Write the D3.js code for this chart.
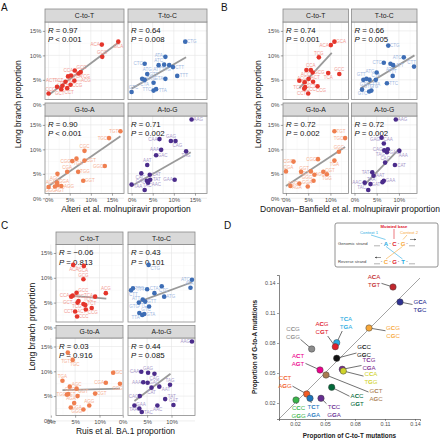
<!DOCTYPE html>
<html><head><meta charset="utf-8">
<script src="https://cdn.jsdelivr.net/npm/d3@7"></script>
<style>body{margin:0;background:#fff}svg{display:block;font-family:"Liberation Sans",Arial,sans-serif}</style>
</head><body><svg id="c" width="440" height="440"></svg>
<script>
// ---------- shared facet data ----------
const mutTypes = ["C-to-T","T-to-C","G-to-A","A-to-G"];
const pointColors = ["#E5352B","#3D6DB5","#EF7F4F","#4B2C8B"];
const labelColors = ["#F29A92","#A2B9DF","#F6B093","#A99BCB"];

// Alteri et al. (panel A): [trinucleotide, x %, y %]
const alteriCT = [["GCA",16.5,12.8],["ACA",12.6,12.2],["GCG",12.7,9.7],["TCA",6.2,6.9],["CCA",7.1,6.3],["TCG",5.3,5.9],["ACC",4.6,5.7],["GCC",7.6,6.6],["ACG",6.1,4.8],["ACT",4.0,4.6],["TCT",2.0,3.6],["GCT",3.3,3.8],["TCC",4.4,3.3],["CCT",3.0,3.1],["CCG",5.2,4.0],["CCC",0.0,2.2]];
const alteriTC = [["CTG",12.7,12.8],["ATA",8.0,9.7],["ATC",6.4,8.0],["TTG",8.9,8.0],["CTC",3.1,8.3],["CTT",9.8,7.6],["ATT",7.7,8.1],["ATG",3.7,6.2],["TTT",10.8,5.8],["GTA",8.0,5.2],["GTT",2.5,5.2],["CTA",3.1,5.0],["GTG",5.2,4.4],["TTA",5.2,2.8],["TTC",5.8,3.1],["GTC",0.0,2.5]];
const alteriGA = [["TGT",17.0,13.7],["TGC",14.3,12.3],["CGC",8.5,9.7],["TGA",6.6,8.1],["CGG",5.6,7.6],["CGT",8.5,7.7],["AGC",2.1,5.0],["CGA",4.4,5.4],["TGG",7.0,5.4],["GGC",13.3,6.6],["GGT",8.2,3.6],["AGT",2.0,3.2],["AGA",2.1,2.7],["AGG",3.0,2.5],["GGG",0.0,2.3],["GGA",1.5,2.4]];
const alteriAG = [["AAG",14.2,16.1],["CAA",6.6,12.1],["GAG",9.3,11.7],["CAG",10.4,11.7],["AAA",7.0,9.9],["GAC",5.8,8.8],["TAG",12.9,9.6],["AAT",3.7,6.8],["CAC",2.3,5.1],["GAA",10.2,3.8],["CAT",4.3,4.8],["GAT",3.6,3.6],["TAT",4.4,3.8],["AAC",3.9,3.2],["TAA",0.0,2.8],["TAC",3.1,1.7]];
const alteriR = ["0.97","0.64","0.90","0.71"];
const alteriP = ["< 0.001","= 0.008","< 0.001","= 0.002"];
const alteriFit = [[0,1.9,16.8,12.8],[0,3.2,12.9,9.6],[0,2.5,17.0,12.7],[0,2.5,14.0,9.4]];

// Donovan-Banfield et al. (panel B)
const donovanCT = [["GCA",10.9,12.8],["ACA",10.1,12.1],["TCG",7.4,9.6],["ACC",4.6,7.0],["CCA",5.6,7.0],["GCG",6.0,6.5],["TCA",9.5,6.4],["GCC",12.0,6.2],["TCC",3.0,4.8],["ACG",5.1,5.2],["ACT",4.2,4.5],["GCT",6.1,4.6],["TCT",4.3,3.5],["CCT",4.1,3.2],["CCG",7.1,3.7],["CCC",5.0,2.2]];
const donovanTC = [["CTG",7.6,12.0],["ATC",11.1,9.6],["CTT",13.4,7.7],["ATA",8.1,8.3],["CTC",6.6,8.5],["ATT",8.7,8.0],["ATG",5.0,6.5],["TTT",8.6,5.8],["TTC",7.3,4.3],["TTA",4.8,5.0],["CTA",2.0,5.0],["GTA",2.7,5.2],["GTT",3.4,5.0],["GTG",1.7,3.0],["GTC",3.3,2.6],["TTG",3.8,2.8]];
const donovanGA = [["TGT",10.9,13.7],["TGC",13.3,12.3],["GGC",11.9,9.5],["TGA",10.9,7.7],["CGC",7.2,8.0],["CGT",8.4,5.4],["CGG",1.7,7.5],["CGA",0.0,5.5],["AGT",3.4,5.4],["GGT",5.6,5.5],["AGC",6.4,4.8],["TGG",9.2,4.9],["GGG",6.2,3.6],["AGA",1.0,2.5],["AGG",3.0,3.0],["GGA",4.9,2.4]];
const donovanAG = [["AAG",9.3,16.1],["GAG",6.1,12.4],["CAA",6.6,11.2],["AAA",10.1,9.7],["CAG",6.7,9.8],["GAC",7.3,9.4],["TAG",7.5,10.0],["CAC",6.9,7.3],["CAT",9.1,6.8],["TAT",4.0,5.3],["AAT",4.3,4.6],["AAC",2.3,3.2],["TAA",3.6,2.9],["GAA",6.6,3.6],["GAT",6.3,3.3],["TAC",3.1,1.7]];
const donovanR = ["0.74","0.66","0.72","0.72"];
const donovanP = ["= 0.001","= 0.005","= 0.002","= 0.002"];
const donovanFit = [[3.0,3.3,10.3,10.5],[1.4,3.3,13.5,10.0],[0,2.5,13.3,10.5],[2.3,2.8,10.2,10.2]];

// Ruis et al. BA.1 (panel C)
const ruisCT = [["GCA",4.6,12.6],["ACA",6.8,12.4],["GCG",6.7,9.7],["ACC",5.3,7.0],["CCA",4.5,6.4],["GCC",4.2,6.2],["TCA",9.1,6.2],["ACG",11.3,6.9],["TCG",5.7,5.3],["GCT",5.5,5.0],["TCC",6.7,4.7],["ACT",7.1,4.5],["TCT",8.4,3.9],["CCG",7.2,3.6],["CCT",5.0,3.2],["CCC",5.4,2.2]];
const ruisTC = [["CTG",5.3,12.6],["ATC",14.2,9.6],["ATA",13.9,8.0],["CTC",8.0,8.3],["TTT",5.0,7.7],["TTG",2.1,7.9],["CTT",1.7,7.5],["CTA",6.5,6.9],["ATG",8.5,6.2],["ATT",4.1,5.6],["GTT",4.6,5.2],["GTG",3.3,5.0],["TTC",5.4,4.2],["GTA",3.4,2.9],["TTA",4.0,2.5],["GTC",4.4,2.7]];
const ruisGA = [["TGC",3.5,13.8],["TGT",4.5,12.3],["TGA",2.4,8.1],["GGC",3.9,6.9],["AGC",5.3,6.5],["AGT",3.6,5.4],["TGG",3.3,5.3],["GGT",5.5,5.0],["CGT",9.1,5.5],["CGA",11.3,7.7],["CGC",12.8,9.7],["CGG",14.2,7.5],["AGA",4.8,3.6],["GGA",4.1,2.7],["GGG",6.7,2.3],["AGG",7.9,3.1]];
const ruisAG = [["AAG",14.2,16.0],["CAA",3.8,9.9],["GAG",5.2,9.7],["CAG",6.5,9.5],["AAA",4.2,7.8],["GAC",5.1,7.7],["CAT",5.9,6.7],["TAG",9.7,7.3],["AAT",7.5,6.9],["CAC",3.5,5.0],["TAT",8.7,4.4],["AAC",7.1,3.1],["GAT",10.4,3.2],["GAA",2.4,3.1],["TAA",3.4,2.5],["TAC",3.9,1.8]];
const ruisR = ["\u22120.06","0.43","0.03","0.44"];
const ruisP = ["= 0.813","= 0.101","= 0.916","= 0.085"];
const ruisFit = [[3.9,6.4,11.4,5.8],[3.4,5.2,14.2,9.1],[2.4,6.2,14.2,6.5],[2.4,4.0,9.8,9.5]];

const pctMajor = [0,5,10,15];
const pctMinor = [2.5,7.5,12.5,17.5];

// ---------- panel D data ----------
const dTop    = ["ACA","GCA","GCG","TCA","ACG","CCG","GCC","TCG","CCA","ACT","GCT","ACC","CCT","TCT","TCC","CCC"];
const dBottom = ["TGT","TGC","CGC","TGA","CGT","CGG","GGC","CGA","TGG","AGT","AGC","GGT","AGG","AGA","GGA","GGG"];
const dCtoT   = [0.118,0.125,0.094,0.0617,0.0603,0.0367,0.0617,0.0673,0.0683,0.045,0.051,0.0567,0.0317,0.035,0.046,0.021];
const dGtoA   = [0.136,0.121,0.095,0.0803,0.0763,0.074,0.0647,0.0537,0.052,0.053,0.048,0.0357,0.029,0.0247,0.0247,0.023];
const dColors = ["#C1272D","#2E3192","#F7A739","#29ABE2","#E0202A","#8C8C8C","#111111","#7B2A90","#CFD32A","#EC008C","#A97C50","#006838","#F15A24","#1C75BC","#662D91","#39B54A"];
const dLabelX = [0.099,0.145,0.118,0.071,0.047,0.018,0.089,0.094,0.096,0.023,0.101,0.082,0.010,0.0385,0.059,0.0235];
const dLabelY = [0.142,0.117,0.091,0.100,0.095,0.090,0.072,0.059,0.045,0.063,0.028,0.023,0.041,0.012,0.012,0.011];
const dTicks = [0.02,0.05,0.08,0.11,0.14];

// ---------- drawing ----------
const svg = d3.select("#c");
svg.append("rect").attr("width",440).attr("height",440).attr("fill","#fff");

function clipEnd(px,py,lx,ly,hw,hh){
  const dx=lx-px, dy=ly-py;
  const s=Math.min(dx===0?Infinity:hw/Math.abs(dx), dy===0?Infinity:hh/Math.abs(dy));
  return [lx-dx*s, ly-dy*s, s];
}

// simple rectangle-based label repulsion (ggrepel-like), deterministic
function repelRect(items, obstacles, b){
  const clamp=A=>{A.x=Math.max(b[0]+A.w/2,Math.min(b[1]-A.w/2,A.x)); A.y=Math.max(b[2]+A.h/2,Math.min(b[3]-A.h/2,A.y));};
  const pushObs=(A,f)=>obstacles.forEach(o=>{
    const dx=A.x-o.x, dy=A.y-o.y;
    const ox=(A.w+o.w)/2-Math.abs(dx), oy=(A.h+o.h)/2-Math.abs(dy);
    if(ox>0&&oy>0){
      if(o.hard){ A.y+=(oy+0.2); }
      else if(ox*0.45<oy) A.x+=(dx>=0?1:-1)*ox*f; else A.y+=(dy>=0?1:-1)*oy*f;
    }
  });
  items.forEach((it,i)=>{ const a=i*2.39996+0.4; it.x=it.ax+(it.w/2+2)*Math.cos(a); it.y=it.ay+(it.h/2+2)*Math.sin(a); });
  for(let k=0;k<420;k++){
    for(let i=0;i<items.length;i++){
      for(let j=i+1;j<items.length;j++){
        const A=items[i],B=items[j];
        const dx=B.x-A.x, dy=B.y-A.y;
        const ox=(A.w+B.w)/2+0.6-Math.abs(dx), oy=(A.h+B.h)/2+0.4-Math.abs(dy);
        if(ox>0&&oy>0){
          if(ox*0.45<oy){ const s=(dx>=0?1:-1)*ox*0.5; A.x-=s; B.x+=s; }
          else { const s=(dy>=0?1:-1)*oy*0.5; A.y-=s; B.y+=s; }
        }
      }
      const A=items[i];
      pushObs(A,0.6);
      A.x+=(A.ax-A.x)*0.015; A.y+=(A.ay-A.y)*0.015;
      clamp(A);
    }
  }
  items.forEach(A=>{pushObs(A,1); clamp(A);});
  return items;
}

function styleAxis(ax,fs){
  ax.selectAll("line").attr("stroke","#444").attr("stroke-width",0.5);
  ax.selectAll("text").attr("font-size",fs).attr("fill","#4D4D4D").attr("font-family","'Liberation Sans',Arial,sans-serif");
}

function drawStudy(sets, rs, ps, fits, xTicks, L){
  const all = sets.flat();
  const xe = d3.extent(all,d=>d[1]), ye = d3.extent(all,d=>d[2]);
  const ex=(xe[1]-xe[0])*0.05, ey=(ye[1]-ye[0])*0.05;
  const g = svg.append("g");
  sets.forEach((pts,i)=>{
    const col=i%2,row=Math.floor(i/2);
    const x0=L.left+col*(L.pw+L.gapX), sTop=L.top+row*(L.stripH+L.ph+L.gapY), y0=sTop+L.stripH;
    const x=d3.scaleLinear().domain([xe[0]-ex,xe[1]+ex]).range([x0,x0+L.pw]);
    const y=d3.scaleLinear().domain([ye[0]-ey,ye[1]+ey]).range([y0+L.ph,y0]);
    const p=g.append("g");
    p.append("rect").attr("x",x0).attr("y",y0).attr("width",L.pw).attr("height",L.ph).attr("fill","#fff");
    const xmin=pctMinor.filter(v=>v>x.domain()[0]&&v<x.domain()[1]);
    const ymin=pctMinor.filter(v=>v>y.domain()[0]&&v<y.domain()[1]);
    p.selectAll(".vm").data(xmin).join("line").attr("x1",d=>x(d)).attr("x2",d=>x(d)).attr("y1",y0).attr("y2",y0+L.ph).attr("stroke","#F2F2F2").attr("stroke-width",0.4);
    p.selectAll(".hm").data(ymin).join("line").attr("y1",d=>y(d)).attr("y2",d=>y(d)).attr("x1",x0).attr("x2",x0+L.pw).attr("stroke","#F2F2F2").attr("stroke-width",0.4);
    p.selectAll(".vM").data(xTicks).join("line").attr("x1",d=>x(d)).attr("x2",d=>x(d)).attr("y1",y0).attr("y2",y0+L.ph).attr("stroke","#E4E4E4").attr("stroke-width",0.6);
    p.selectAll(".hM").data(pctMajor).join("line").attr("y1",d=>y(d)).attr("y2",d=>y(d)).attr("x1",x0).attr("x2",x0+L.pw).attr("stroke","#E4E4E4").attr("stroke-width",0.6);
    const f=fits[i];
    p.append("line").attr("x1",x(f[0])).attr("y1",y(f[1])).attr("x2",x(f[2])).attr("y2",y(f[3])).attr("stroke","#9A9A9A").attr("stroke-width",1.8);
    const t1=p.append("text").attr("x",x0+3).attr("y",y0+10.5).attr("font-size",7.8).attr("fill","#111");
    t1.append("tspan").attr("font-style","italic").text("R"); t1.append("tspan").text(" = "+rs[i]);
    const t2=p.append("text").attr("x",x0+3).attr("y",y0+20.3).attr("font-size",7.8).attr("fill","#111");
    t2.append("tspan").attr("font-style","italic").text("P"); t2.append("tspan").text(" "+ps[i]);
    const w1=t1.node().getBBox().width, w2=t2.node().getBBox().width;
    const wT=Math.max(w1,w2)+1;
    const obstacles=[{x:x0+3+wT/2,y:y0+12.5,w:wT,h:18,hard:true}];
    pts.forEach(d=>obstacles.push({x:x(d[1]),y:y(d[2]),w:4.4,h:4.4}));
    const items=pts.map(d=>({ax:x(d[1]),ay:y(d[2]),w:d[0].length*2.95,h:4.2,t:d[0]}));
    repelRect(items,obstacles,[x0+1,x0+L.pw-1,y0+1,y0+L.ph-1]);
    items.forEach(l=>{
      const dist=Math.hypot(l.x-l.ax,l.y-l.ay);
      if(dist>6){
        const e=clipEnd(l.ax,l.ay,l.x,l.y,l.w/2+0.3,l.h/2+0.3);
        if(e[2]<1) p.append("line").attr("x1",l.ax).attr("y1",l.ay).attr("x2",e[0]).attr("y2",e[1]).attr("stroke",labelColors[i]).attr("stroke-width",0.5);
      }
    });
    p.selectAll(".lab").data(items).join("text").attr("x",d=>d.x).attr("y",d=>d.y).attr("dy","0.35em").attr("text-anchor","middle").attr("font-size",4.5).attr("fill",labelColors[i]).text(d=>d.t);
    p.selectAll(".pt").data(pts).join("circle").attr("cx",d=>x(d[1])).attr("cy",d=>y(d[2])).attr("r",2.3).attr("fill",pointColors[i]);
    p.append("rect").attr("x",x0).attr("y",y0).attr("width",L.pw).attr("height",L.ph).attr("fill","none").attr("stroke","#8A8A8A").attr("stroke-width",0.8);
    p.append("rect").attr("x",x0).attr("y",sTop).attr("width",L.pw).attr("height",L.stripH).attr("fill","#D9D9D9").attr("stroke","#8A8A8A").attr("stroke-width",0.8);
    p.append("text").attr("x",x0+L.pw/2).attr("y",sTop+L.stripH/2).attr("dy","0.35em").attr("text-anchor","middle").attr("font-size",6.8).attr("fill","#1A1A1A").text(mutTypes[i]);
    if(col===0){
      const ax=p.append("g").attr("transform",`translate(${x0},0)`).call(d3.axisLeft(y).tickValues(pctMajor).tickFormat(d=>d+"%").tickSize(2.2).tickPadding(1.5));
      ax.select(".domain").remove(); styleAxis(ax,5.8);
    }
    if(row===1){
      const ax=p.append("g").attr("transform",`translate(0,${y0+L.ph})`).call(d3.axisBottom(x).tickValues(xTicks).tickFormat(d=>d+"%").tickSize(2.2).tickPadding(2));
      ax.select(".domain").remove(); styleAxis(ax,5.8);
    }
  });
  const totalW=2*L.pw+L.gapX, bottom=L.top+2*(L.stripH+L.ph)+L.gapY;
  g.append("text").attr("x",L.left+totalW/2).attr("y",L.xTitleY).attr("dy","0.35em").attr("text-anchor","middle").attr("font-size",8.5).attr("fill","#111").text(L.xTitle);
  g.append("text").attr("transform",`translate(${L.yTitleX},${(L.top+bottom)/2+3}) rotate(-90)`).attr("dy","0.35em").attr("text-anchor","middle").attr("font-size",8.5).attr("fill","#111").text("Long branch proportion");
  g.append("text").attr("x",L.tagX).attr("y",L.tagY).attr("font-size",10).attr("fill","#111").text(L.tag);
}

drawStudy([alteriCT,alteriTC,alteriGA,alteriAG],alteriR,alteriP,alteriFit,[0,5,10,15],
  {left:45,pw:79,gapX:4,top:9,stripH:13,ph:77.5,gapY:3.5,xTitle:"Alteri et al. molnupiravir proportion",xTitleY:209.5,yTitleX:18,tag:"A",tagX:1,tagY:11});
drawStudy([donovanCT,donovanTC,donovanGA,donovanAG],donovanR,donovanP,donovanFit,[0,5,10],
  {left:283,pw:65.5,gapX:3,top:9,stripH:13,ph:77.5,gapY:3.5,xTitle:"Donovan\u2212Banfield et al. molnupiravir proportion",xTitleY:209.5,yTitleX:258,tag:"B",tagX:221,tagY:11});
drawStudy([ruisCT,ruisTC,ruisGA,ruisAG],ruisR,ruisP,ruisFit,[0,5,10],
  {left:56,pw:67,gapX:5,top:232,stripH:12.5,ph:77.5,gapY:3.5,xTitle:"Ruis et al. BA.1 proportion",xTitleY:431.5,yTitleX:32,tag:"C",tagX:1,tagY:229});

// ---------- panel D ----------
(function(){
  const g=svg.append("g");
  const x=d3.scaleLinear().domain([0.004,0.145]).range([279,420]);
  const y=d3.scaleLinear().domain([0.004,0.148]).range([419,275]);
  g.append("text").attr("x",224).attr("y",229).attr("font-size",10).attr("fill","#111").text("D");
  g.append("line").attr("x1",x(0.004)).attr("y1",y(0.004)).attr("x2",x(0.145)).attr("y2",y(0.145)).attr("stroke","#666").attr("stroke-width",0.6);
  const ax=g.append("g").attr("transform","translate(279,0)").call(d3.axisLeft(y).tickValues(dTicks).tickFormat(d3.format(".2f")).tickSize(2).tickPadding(1.5));
  const bx=g.append("g").attr("transform","translate(0,419)").call(d3.axisBottom(x).tickValues(dTicks).tickFormat(d3.format(".2f")).tickSize(2).tickPadding(1.5));
  [ax,bx].forEach(a=>{a.select(".domain").attr("stroke","#333").attr("stroke-width",0.6); styleAxis(a,5.4);});
  g.append("text").attr("x",349.5).attr("y",435.5).attr("text-anchor","middle").attr("dy","0.35em").attr("font-size",6.4).attr("font-weight","bold").attr("fill","#222").text("Proportion of C-to-T mutations");
  g.append("text").attr("transform","translate(255,347) rotate(-90)").attr("text-anchor","middle").attr("dy","0.35em").attr("font-size",6.4).attr("font-weight","bold").attr("fill","#222").text("Proportion of G-to-A mutations");
  dCtoT.forEach((v,i)=>{
    const px=x(v),py=y(dGtoA[i]),lx=x(dLabelX[i]),ly=y(dLabelY[i]);
    const e=clipEnd(px,py,lx,ly,7.5,8);
    if(e[2]<1) g.append("line").attr("x1",px).attr("y1",py).attr("x2",e[0]).attr("y2",e[1]).attr("stroke","#333").attr("stroke-width",0.7);
  });
  dCtoT.forEach((v,i)=>{
    [dTop[i],dBottom[i]].forEach((s,k)=>{
      const t=g.append("text").attr("x",x(dLabelX[i])).attr("y",y(dLabelY[i])+(k===0?-3.8:3.8)).attr("dy","0.35em").attr("text-anchor","middle").attr("font-size",6.1).attr("fill",dColors[i]);
      t.append("tspan").text(s[0]); t.append("tspan").attr("font-weight","bold").text(s[1]); t.append("tspan").text(s[2]);
    });
  });
  g.selectAll(".dp").data(dCtoT).join("circle").attr("cx",d=>x(d)).attr("cy",(d,i)=>y(dGtoA[i])).attr("r",3.2).attr("fill",(d,i)=>dColors[i]).attr("stroke","#444").attr("stroke-width",0.5);
  // legend
  const lg=g.append("g");
  lg.append("rect").attr("x",335).attr("y",223).attr("width",103).attr("height",44).attr("rx",2).attr("fill","#fff").attr("stroke","#777").attr("stroke-width",0.8);
  const fs=4.2;
  lg.append("text").attr("x",394).attr("y",227.5).attr("text-anchor","middle").attr("font-size",fs).attr("font-weight","bold").attr("fill","#E0202A").text("Mutated base");
  lg.append("text").attr("x",369).attr("y",233.5).attr("text-anchor","middle").attr("font-size",fs).attr("fill","#29ABE2").text("Context 1");
  lg.append("text").attr("x",409).attr("y",233.5).attr("text-anchor","middle").attr("font-size",fs).attr("fill","#F7A739").text("Context 2");
  lg.append("line").attr("x1",394).attr("y1",229).attr("x2",394).attr("y2",239).attr("stroke","#E0202A").attr("stroke-width",0.6);
  lg.append("line").attr("x1",371).attr("y1",235).attr("x2",385.5).attr("y2",239.5).attr("stroke","#29ABE2").attr("stroke-width",0.6);
  lg.append("line").attr("x1",407).attr("y1",235).attr("x2",403).attr("y2",239.5).attr("stroke","#F7A739").attr("stroke-width",0.6);
  lg.append("line").attr("x1",386).attr("y1",246.5).attr("x2",402.5).attr("y2",259).attr("stroke","#29ABE2").attr("stroke-width",0.6);
  lg.append("line").attr("x1",402.5).attr("y1",246.5).attr("x2",386).attr("y2",259).attr("stroke","#F7A739").attr("stroke-width",0.6);
  lg.append("text").attr("x",338).attr("y",244.8).attr("font-size",fs).attr("fill","#444").text("Genomic strand");
  lg.append("text").attr("x",338).attr("y",263).attr("font-size",fs).attr("fill","#444").text("Reverse strand");
  const seq=(yy,letters,cols)=>{
    lg.append("line").attr("x1",374).attr("x2",380).attr("y1",yy+0.8).attr("y2",yy+0.8).attr("stroke","#666").attr("stroke-width",0.5);
    lg.append("line").attr("x1",409).attr("x2",415).attr("y1",yy+0.8).attr("y2",yy+0.8).attr("stroke","#666").attr("stroke-width",0.5);
    [381.5,390,398.5,407].forEach(xx=>lg.append("text").attr("x",xx).attr("y",yy).attr("text-anchor","middle").attr("font-size",4.5).attr("fill","#555").text("-"));
    letters.forEach((c,k)=>lg.append("text").attr("x",386+k*8.5).attr("y",yy+0.6).attr("text-anchor","middle").attr("font-size",6).attr("font-weight","bold").attr("fill",cols[k]).text(c));
  };
  seq(245,["A","C","G"],["#29ABE2","#E0202A","#F7A739"]);
  seq(263,["C","G","T"],["#F7A739","#E0202A","#29ABE2"]);
  const arrow=(x1,x2,yy)=>{
    lg.append("line").attr("x1",x1).attr("x2",x2).attr("y1",yy).attr("y2",yy).attr("stroke","#333").attr("stroke-width",0.5);
    const d=x2>x1?-1:1;
    lg.append("path").attr("d",`M${x2},${yy} L${x2+d*1.6},${yy-1} L${x2+d*1.6},${yy+1} Z`).attr("fill","#333");
  };
  arrow(410,416,239.5);
  arrow(381,375,257.5);
})();
</script></body></html>
